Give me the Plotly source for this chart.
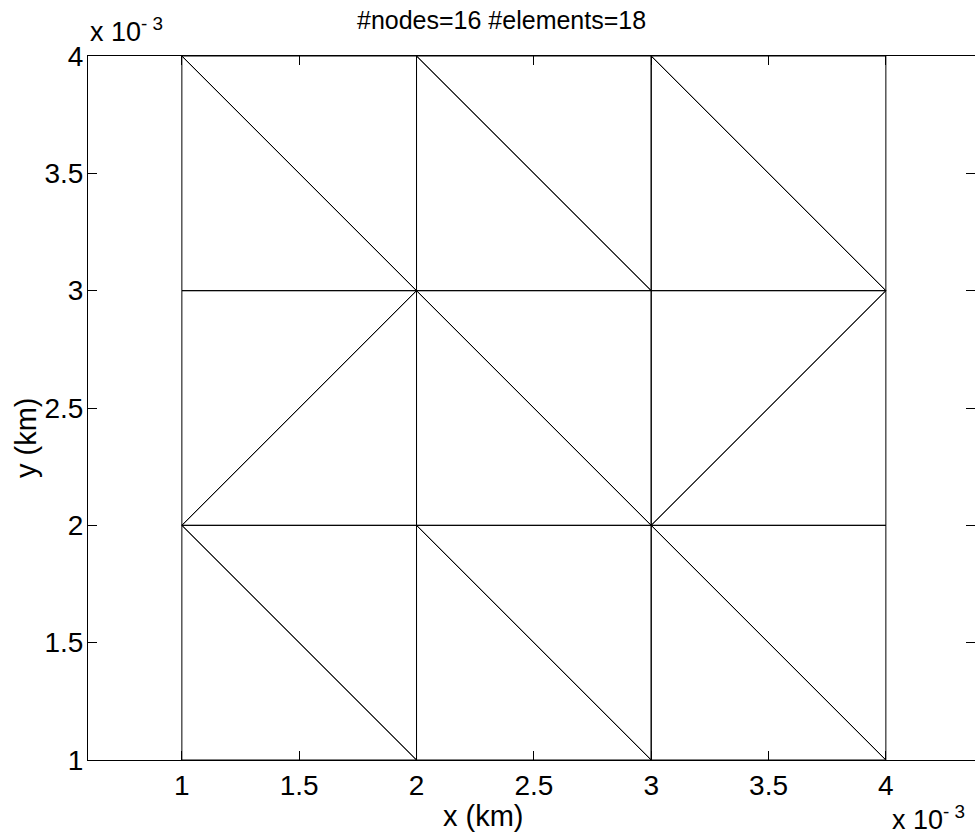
import plotly.graph_objects as go

# Mesh node coordinates (axis units are x 10^-3 km)
node_x = [1, 2, 3, 4, 1, 2, 3, 4, 1, 2, 3, 4, 1, 2, 3, 4]
node_y = [1, 1, 1, 1, 2, 2, 2, 2, 3, 3, 3, 3, 4, 4, 4, 4]

# Triangular elements (node indices)
elements = [
    [0, 1, 4], [1, 5, 4],
    [1, 2, 5], [2, 6, 5],
    [2, 3, 6], [3, 7, 6],
    [4, 5, 9], [4, 9, 8],
    [5, 6, 9], [6, 10, 9],
    [6, 7, 11], [6, 11, 10],
    [8, 9, 12], [9, 13, 12],
    [9, 10, 13], [10, 14, 13],
    [10, 11, 14], [11, 15, 14],
]

x_ticks = [1, 1.5, 2, 2.5, 3, 3.5, 4]
x_ticktext = ["1", "1.5", "2", "2.5", "3", "3.5", "4"]
y_ticks = [1, 1.5, 2, 2.5, 3, 3.5, 4]
y_ticktext = ["1", "1.5", "2", "2.5", "3", "3.5", "4"]

title_text = "#nodes=%d #elements=%d" % (len(node_x), len(elements))

xs, ys = [], []
for tri in elements:
    for k in list(tri) + [tri[0]]:
        xs.append(node_x[k])
        ys.append(node_y[k])
    xs.append(None)
    ys.append(None)

FONT = "Liberation Sans, Arial, Helvetica, sans-serif"

fig = go.Figure()
fig.add_trace(go.Scatter(x=xs, y=ys, mode="lines",
                         line=dict(color="black", width=1),
                         hoverinfo="skip", showlegend=False))

W, H = 975, 834
ml, mr, mt, mb = 88, 0, 56, 74
pw = W - ml - mr
ph = H - mt - mb
ppu = ph / 3.0
x0 = 0.6
x1 = x0 + pw / ppu

axis_common = dict(showgrid=False, zeroline=False, showline=True,
                   linecolor="black", linewidth=1, mirror="ticks",
                   ticks="inside", ticklen=9, tickcolor="black", tickwidth=1,
                   tickfont=dict(family=FONT, size=28, color="black"))

fig.update_layout(
    width=W, height=H,
    margin=dict(l=ml, r=mr, t=mt, b=mb, pad=0),
    paper_bgcolor="white", plot_bgcolor="white",
    xaxis=dict(range=[x0, x1], tickvals=x_ticks, ticktext=x_ticktext,
               **axis_common),
    yaxis=dict(range=[1, 4], tickvals=y_ticks, ticktext=y_ticktext,
               ticklabelstandoff=-2, **axis_common),
    annotations=[
        dict(text=title_text, xref="paper", yref="paper", x=(501 - ml) / pw,
             y=1 + (mt - 20) / ph, xanchor="center", yanchor="middle",
             showarrow=False, font=dict(family=FONT, size=25, color="black")),
        dict(text="x (km)", xref="paper", yref="paper", x=(483 - ml) / pw,
             y=-(816 - mt - ph) / ph, xanchor="center", yanchor="middle",
             showarrow=False, font=dict(family=FONT, size=29, color="black")),
        dict(text="y (km)", xref="paper", yref="paper", x=-(ml - 26) / pw,
             y=(mt + ph - 438) / ph, xanchor="center", yanchor="middle",
             textangle=-90, showarrow=False,
             font=dict(family=FONT, size=29, color="black")),
        dict(text="x 10<sup>- 3</sup>", xref="paper", yref="paper",
             x=0.0, y=1 + (mt - 30) / ph, xanchor="left", yanchor="middle",
             showarrow=False, font=dict(family=FONT, size=27, color="black")),
        dict(text="x 10<sup>- 3</sup>", xref="paper", yref="paper",
             x=(890 - ml) / pw, y=-(818 - mt - ph) / ph, xanchor="left",
             yanchor="middle", showarrow=False,
             font=dict(family=FONT, size=27, color="black")),
    ],
)

fig.write_html("out.html")
